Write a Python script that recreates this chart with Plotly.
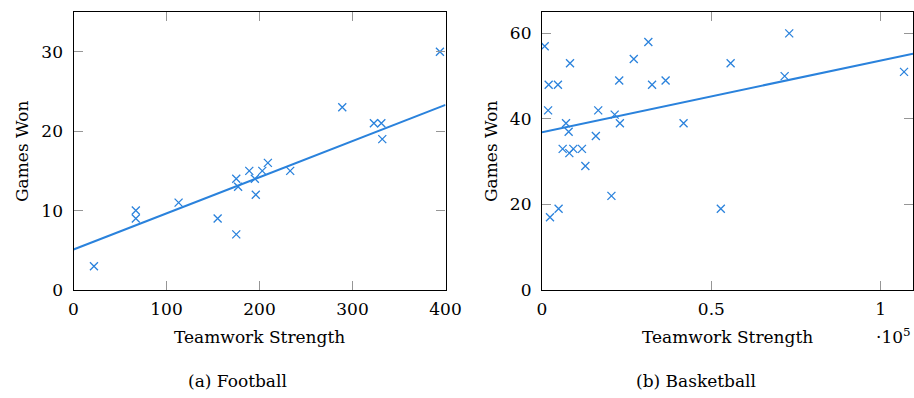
import numpy as np
import plotly.graph_objects as go

# Football data
fb_strength = [22, 67, 67, 113, 155, 175, 177, 175, 189, 195, 196, 203, 209, 233, 289, 323, 331, 332, 394]
fb_won = [3, 10, 9, 11, 9, 14, 13, 7, 15, 14, 12, 15, 16, 15, 23, 21, 21, 19, 30]
fb_fit = [0.0455, 5.1]  # slope, intercept

# Basketball data
bb_strength = [800, 1970, 4700, 1800, 8270, 7090, 7870, 6100, 8070, 9250, 11800, 12800,
               2360, 4900, 15900, 16600, 20500, 21460, 22800, 23000, 27100, 31400, 32500,
               36500, 41800, 52800, 55700, 71650, 73000, 106900]
bb_won = [57, 48, 48, 42, 53, 39, 37, 33, 32, 33, 33, 29, 17, 19, 36, 42, 22, 41, 49, 39,
          54, 58, 48, 49, 39, 19, 53, 50, 60, 51]
bb_fit = [1.675e-4, 36.9]  # slope, intercept

fb_xticks = [0, 100, 200, 300, 400]
fb_yticks = [0, 10, 20, 30]
bb_xticks = [0, 50000, 100000]
bb_xticklabels = ["0", "0.5", "1"]
bb_yticks = [0, 20, 40, 60]

BLUE = "rgb(42,130,220)"
FONT = "DejaVu Serif"
FS = 17

fig = go.Figure()

def add_panel(xs, ys, fit, xaxis, yaxis, xr):
    fig.add_trace(go.Scatter(x=xs, y=ys, mode="markers", xaxis=xaxis, yaxis=yaxis,
                             marker=dict(symbol="x-thin", size=8,
                                         line=dict(width=1.3, color=BLUE), color=BLUE),
                             showlegend=False))
    lx = np.array([xr[0], xr[1]], float)
    fig.add_trace(go.Scatter(x=lx, y=fit[1] + fit[0] * lx, mode="lines",
                             xaxis=xaxis, yaxis=yaxis,
                             line=dict(color=BLUE, width=2), showlegend=False))

fb_xr = [0, 400]
bb_xr = [0, 109550]
add_panel(fb_strength, fb_won, fb_fit, "x", "y", fb_xr)
add_panel(bb_strength, bb_won, bb_fit, "x2", "y2", bb_xr)

axcommon = dict(showline=True, linecolor="black", linewidth=1.2, mirror="allticks",
                ticks="inside", ticklen=9, tickcolor="rgb(150,150,150)", tickwidth=1,
                showgrid=False, zeroline=False, automargin=False,
                tickfont=dict(family=FONT, size=FS, color="black"))

fig.update_layout(
    width=914, height=398, margin=dict(l=0, r=0, t=0, b=0, autoexpand=False),
    plot_bgcolor="white", paper_bgcolor="white",
    font=dict(family=FONT, size=FS, color="black"),
    xaxis=dict(domain=[73.5/914, 445.5/914], range=fb_xr, tickvals=fb_xticks,
               ticklabelstandoff=3, anchor="y", **axcommon),
    yaxis=dict(domain=[108/398, 386/398], range=[0, 35], tickvals=fb_yticks,
               ticklabelstandoff=6, anchor="x", **axcommon),
    xaxis2=dict(domain=[542/914, 913/914], range=bb_xr, tickvals=bb_xticks,
                ticktext=bb_xticklabels, ticklabelstandoff=3, anchor="y2", **axcommon),
    yaxis2=dict(domain=[108/398, 386/398], range=[0, 65], tickvals=bb_yticks,
                ticklabelstandoff=6, anchor="x2", **axcommon),
)

def ann(text, x, y, angle=0):
    fig.add_annotation(text=text, x=x/914, y=1 - y/398, xref="paper", yref="paper",
                       showarrow=False, textangle=angle, xanchor="center", yanchor="middle",
                       font=dict(family=FONT, size=FS, color="black"))

ann("Teamwork Strength", 259, 337)
ann("Teamwork Strength", 727.5, 337)
ann("Games Won", 22, 151, -90)
ann("Games Won", 491, 151, -90)
ann("·10<sup>5</sup>", 893, 336)
ann("(a) Football", 237.5, 381)
ann("(b) Basketball", 696, 381)

fig.write_html("out.html")
